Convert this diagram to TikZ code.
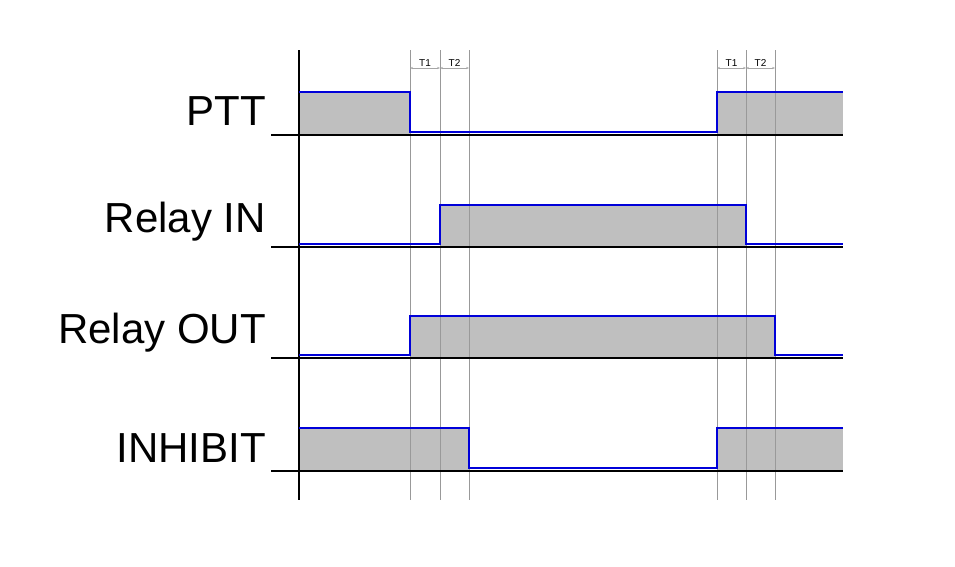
\documentclass[tikz,border=0pt]{standalone}
\usepackage{fontspec}
\setmainfont{Liberation Sans}
\usetikzlibrary{arrows.meta}
\begin{document}
\begin{tikzpicture}
      [x=1pt,y=-1pt,%%%%%%%%%%%%%%%%%%%%%%%%%%%%%%
      timeline/.style={draw=gray!80,line width=0.8pt},
      axisline/.style={draw=black,line width=1.2pt},
      sigline/.style={draw=blue!85!black,line width=2pt,line join=miter},
      hiarea/.style={fill=gray!50},
      signame/.style={anchor=east,font=\fontsize{42}{42}\selectfont,inner sep=0pt},
      delaylabel/.style={font=\fontsize{10}{10}\selectfont,inner sep=1pt,anchor=south},
      delay/.style={draw=gray!70,line width=0.5pt,{Stealth[length=3pt]}-{Stealth[length=3pt]}},
      ]%%%%%%%%%%%%%%%%%%%%%%%%%%%%%%
      \useasboundingbox (0,0) rectangle (955,566);

      % gray areas
      \fill[hiarea] (299,92) rectangle (410,135);
      \fill[hiarea] (717,92) rectangle (843,135);
      \fill[hiarea] (440,205) rectangle (746,247);
      \fill[hiarea] (410,316) rectangle (775,358);
      \fill[hiarea] (299,428) rectangle (469,471);
      \fill[hiarea] (717,428) rectangle (843,471);

      % time marks
      \foreach \t/\n in {410/a,440/b,469/c,717/d,746/e,775/f}{
        \coordinate (top\n) at (\t,50);
        \coordinate (bot\n) at (\t,500);
        \draw[timeline] (top\n) -- (bot\n);
      }
      \draw[axisline] (299,50) -- (299,500);

      % baselines
      \foreach \y in {135,247,358,471}
        \draw[axisline] (271,\y) -- (843,\y);

      % signal levels
      \draw[sigline] (299,92) -- (410,92) -- (410,132) -- (717,132) -- (717,92) -- (843,92);
      \draw[sigline] (299,244) -- (440,244) -- (440,205) -- (746,205) -- (746,244) -- (843,244);
      \draw[sigline] (299,355) -- (410,355) -- (410,316) -- (775,316) -- (775,355) -- (843,355);
      \draw[sigline] (299,428) -- (469,428) -- (469,468) -- (717,468) -- (717,428) -- (843,428);

      % delays
      \coordinate (a1) at (410,68); \coordinate (b1) at (440,68); \coordinate (c1) at (469,68);
      \coordinate (d1) at (717,68); \coordinate (e1) at (746,68); \coordinate (f1) at (775,68);
      \draw[delay] (a1) -- node[delaylabel] {T1} (b1);
      \draw[delay] (b1) -- node[delaylabel] {T2} (c1);
      \draw[delay] (d1) -- node[delaylabel] {T1} (e1);
      \draw[delay] (e1) -- node[delaylabel] {T2} (f1);

      % names
      \node[signame] (ptt) at (266,111) {PTT};
      \node[signame] (relin) at (266,222) {Relay IN};
      \node[signame] (relout) at (266,333) {Relay OUT};
      \node[signame] (inhibit) at (266,448) {INHIBIT};
    \end{tikzpicture}
\end{document}
